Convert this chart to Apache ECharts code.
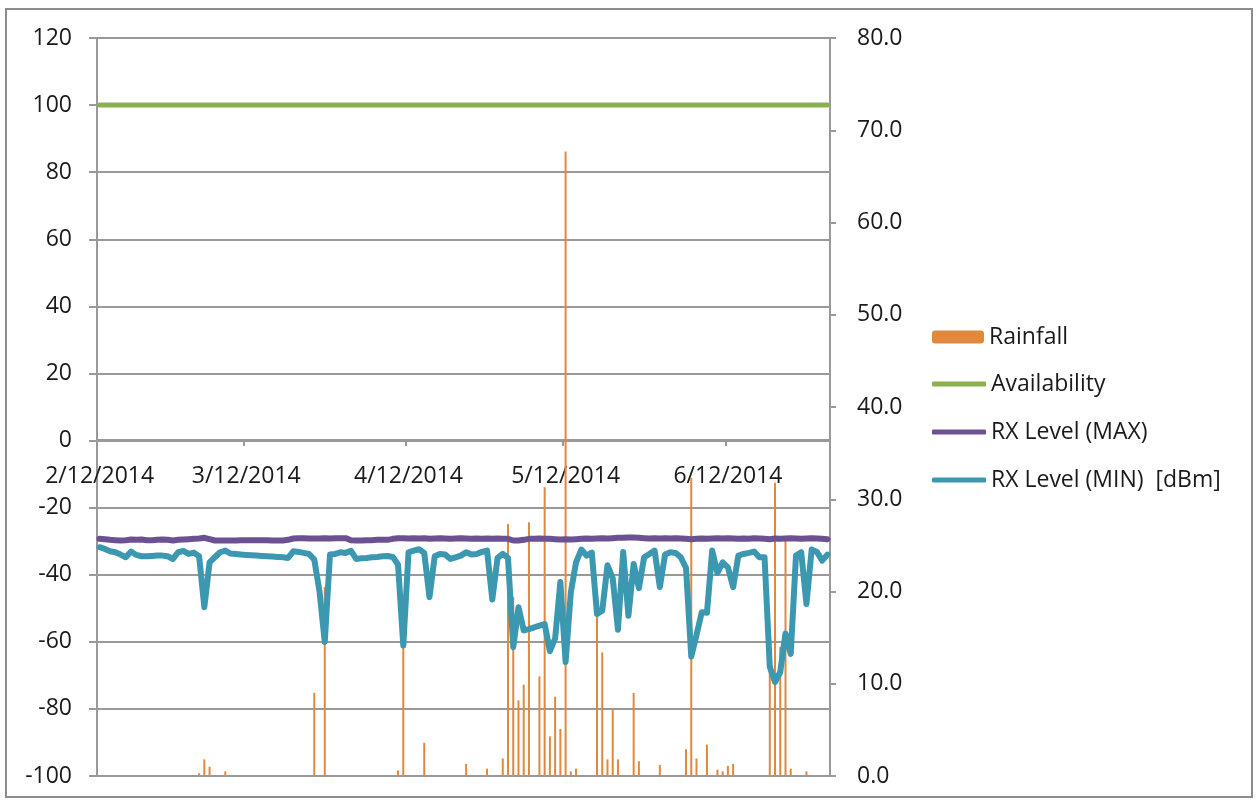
<!DOCTYPE html>
<html>
<head>
<meta charset="utf-8">
<script src="https://cdn.jsdelivr.net/npm/echarts@6/dist/echarts.min.js"></script>
<style>
html, body { margin: 0; padding: 0; background: #fff; }
#chart { width: 1258px; height: 802px; }
</style>
</head>
<body>
<div id="chart"></div>
<script>
// daily categories, 12 Feb 2014 .. 1 Jul 2014 (140 days)
const days = []
for (let i = 0; i < 140; i++) {
  const d = new Date(2014, 1, 12 + i)
  days.push((d.getMonth() + 1) + '/' + d.getDate() + '/' + d.getFullYear())
}
const tickLabels = ['2/12/2014', '3/12/2014', '4/12/2014', '5/12/2014', '6/12/2014']

// rainfall (right axis)
const rainfall = [
  0, 0, 0, 0, 0, 0, 0, 0, 0, 0, 0, 0, 0, 0, 0, 0, 0, 0, 0, 0.3,
  1.8, 1.0, 0, 0, 0.5, 0, 0, 0, 0, 0, 0, 0, 0, 0, 0, 0, 0, 0, 0, 0,
  0, 9.0, 0, 20.5, 0, 0, 0, 0, 0, 0, 0, 0, 0, 0, 0, 0, 0, 0.6, 14.0, 0,
  0, 0, 3.6, 0, 0, 0, 0, 0, 0, 0, 1.3, 0, 0, 0, 0.8, 0, 0, 1.9, 27.3, 19.4,
  8.2, 9.9, 27.5, 0, 10.8, 31.3, 4.3, 8.6, 5.1, 67.7, 0.5, 0.8, 0, 0, 0, 17.5, 13.4, 1.8, 7.2, 1.8,
  0, 0, 9.0, 1.6, 0, 0, 0, 1.2, 0, 0, 0, 0, 2.9, 32.3, 1.9, 0, 3.4, 0, 0.7, 0.5,
  1.1, 1.3, 0, 0, 0, 0, 0, 0, 11.5, 31.8, 14.0, 25.6, 0.8, 0, 0, 0.5, 0, 0, 0, 0
]

// availability (left axis)
const availability = [
  100, 100, 100, 100, 100, 100, 100, 100, 100, 100, 100, 100, 100, 100, 100, 100, 100, 100, 100, 100,
  100, 100, 100, 100, 100, 100, 100, 100, 100, 100, 100, 100, 100, 100, 100, 100, 100, 100, 100, 100,
  100, 100, 100, 100, 100, 100, 100, 100, 100, 100, 100, 100, 100, 100, 100, 100, 100, 100, 100, 100,
  100, 100, 100, 100, 100, 100, 100, 100, 100, 100, 100, 100, 100, 100, 100, 100, 100, 100, 100, 100,
  100, 100, 100, 100, 100, 100, 100, 100, 100, 100, 100, 100, 100, 100, 100, 100, 100, 100, 100, 100,
  100, 100, 100, 100, 100, 100, 100, 100, 100, 100, 100, 100, 100, 100, 100, 100, 100, 100, 100, 100,
  100, 100, 100, 100, 100, 100, 100, 100, 100, 100, 100, 100, 100, 100, 100, 100, 100, 100, 100, 100
]

// RX level max, dBm
const rxMax = [
  -29.3, -29.4, -29.6, -29.7, -29.8, -29.7, -29.5, -29.6, -29.5, -29.7, -29.7, -29.6, -29.5, -29.6, -29.8, -29.6, -29.5, -29.4, -29.3, -29.2,
  -29.0, -29.4, -29.8, -29.8, -29.8, -29.8, -29.8, -29.7, -29.7, -29.7, -29.7, -29.7, -29.7, -29.8, -29.8, -29.8, -29.6, -29.2, -29.1, -29.1,
  -29.2, -29.2, -29.2, -29.1, -29.2, -29.1, -29.1, -29.1, -29.7, -29.8, -29.8, -29.7, -29.7, -29.6, -29.6, -29.6, -29.3, -29.1, -29.1, -29.2,
  -29.1, -29.2, -29.1, -29.3, -29.2, -29.1, -29.2, -29.3, -29.2, -29.1, -29.2, -29.3, -29.2, -29.3, -29.2, -29.3, -29.2, -29.3, -29.3, -29.8,
  -29.8, -29.6, -29.3, -29.3, -29.2, -29.3, -29.3, -29.4, -29.5, -29.4, -29.5, -29.4, -29.3, -29.2, -29.3, -29.2, -29.1, -29.2, -29.1, -29.0,
  -29.0, -28.9, -28.9, -29.0, -29.1, -29.2, -29.1, -29.2, -29.1, -29.2, -29.1, -29.2, -29.3, -29.4, -29.3, -29.2, -29.3, -29.2, -29.1, -29.2,
  -29.1, -29.2, -29.3, -29.2, -29.3, -29.1, -29.2, -29.3, -29.4, -29.2, -29.3, -29.2, -29.1, -29.2, -29.3, -29.2, -29.1, -29.2, -29.3, -29.4
]

// RX level min, dBm
const rxMin = [
  -31.8, -32.3, -33.0, -33.3, -34.0, -34.8, -33.1, -34.1, -34.5, -34.5, -34.4, -34.3, -34.3, -34.5, -35.3, -33.3, -32.9, -33.8, -33.4, -34.5,
  -49.7, -36.3, -34.8, -33.3, -32.8, -33.7, -33.8, -34.0, -34.1, -34.2, -34.3, -34.4, -34.5, -34.6, -34.7, -34.8, -35.0, -33.0, -33.2, -33.5,
  -33.8, -35.5, -45.0, -60.0, -34.0, -33.8, -33.3, -33.5, -32.9, -35.3, -35.1, -35.0, -34.8, -34.7, -34.5, -34.4, -34.7, -37.0, -61.1, -33.3,
  -32.8, -32.4, -33.5, -46.7, -34.5, -33.8, -34.0, -35.3, -34.8, -34.3, -33.3, -34.0, -33.8, -33.2, -32.8, -47.4, -35.0, -33.8, -35.0, -61.6,
  -49.7, -56.6, -56.2, -55.7, -55.2, -54.7, -62.8, -59.0, -42.2, -66.0, -45.2, -36.3, -32.5, -34.3, -33.4, -51.7, -50.7, -37.2, -41.0, -56.4,
  -33.2, -52.2, -36.8, -44.0, -34.8, -33.8, -32.8, -43.7, -34.0, -33.3, -33.5, -34.8, -38.0, -64.4, -58.0, -51.2, -51.3, -32.8, -39.5, -36.3,
  -37.8, -43.7, -34.3, -33.8, -33.5, -33.1, -34.8, -34.8, -67.5, -72.0, -69.0, -57.5, -63.6, -34.3, -33.3, -48.7, -32.5, -33.2, -35.8, -34.0
]

const GRID_GREY = '#999999'
const textStyle = { color: '#1a1a1a', fontFamily: '"Open Sans"', fontSize: 23 }
const showTick = (i, v) => tickLabels.includes(v)

const chart = echarts.init(document.getElementById('chart'), null, { renderer: 'canvas' })

chart.setOption({
  animation: false,
  backgroundColor: '#ffffff',
  graphic: [{
    type: 'rect', silent: true,
    shape: { x: 6, y: 9, width: 1246, height: 788 },
    style: { fill: 'none', stroke: '#8c8c8c', lineWidth: 2 },
  }],
  grid: { left: 97, right: 428, top: 38, bottom: 26, containLabel: false, outerBoundsMode: 'none' },
  legend: [
    {
      orient: 'vertical', left: 932, top: 325, padding: 0,
      itemWidth: 52, itemHeight: 13,
      textStyle: { ...textStyle, lineHeight: 24 },
      data: ['Rainfall'],
    },
    {
      orient: 'vertical', left: 932, top: 372, padding: 0,
      itemWidth: 54, itemHeight: 5, itemGap: 24, icon: 'roundRect',
      textStyle: { ...textStyle, lineHeight: 24 },
      data: ['Availability', 'RX Level (MAX)', 'RX Level (MIN)  [dBm]'],
    },
  ],
  xAxis: {
    type: 'category', data: days, boundaryGap: true,
    position: 'bottom', offset: -336,
    axisLine: { onZero: false, lineStyle: { color: GRID_GREY, width: 2 } },
    axisTick: { show: true, interval: showTick, length: 6, lineStyle: { color: GRID_GREY, width: 2 } },
    axisLabel: { interval: showTick, margin: 25, ...textStyle },
    splitLine: { show: false },
  },
  yAxis: [
    {
      type: 'value', min: -100, max: 120, interval: 20,
      axisLine: { show: true, lineStyle: { color: GRID_GREY, width: 2 } },
      axisTick: { show: true, length: 8, lineStyle: { color: GRID_GREY, width: 2 } },
      axisLabel: { margin: 25, ...textStyle },
      splitLine: { lineStyle: { color: GRID_GREY, width: 2 } },
    },
    {
      type: 'value', min: 0, max: 80, interval: 10, position: 'right',
      axisLine: { show: true, lineStyle: { color: GRID_GREY, width: 2 } },
      axisTick: { show: true, length: 6, lineStyle: { color: GRID_GREY, width: 2 } },
      axisLabel: { margin: 27, formatter: v => v.toFixed(1), ...textStyle },
      splitLine: { show: false },
    },
  ],
  series: [
    {
      name: 'Rainfall', type: 'bar', yAxisIndex: 1, data: rainfall,
      barWidth: 2, itemStyle: { color: '#e0883c' },
    },
    {
      name: 'Availability', type: 'line', yAxisIndex: 0, data: availability,
      symbol: 'none', lineStyle: { color: '#8bb04e', width: 5, cap: 'round', join: 'round' },
      itemStyle: { color: '#8bb04e' },
    },
    {
      name: 'RX Level (MAX)', type: 'line', yAxisIndex: 0, data: rxMax,
      symbol: 'none', lineStyle: { color: '#6b5092', width: 6, cap: 'round', join: 'round' },
      itemStyle: { color: '#6b5092' },
    },
    {
      name: 'RX Level (MIN)  [dBm]', type: 'line', yAxisIndex: 0, data: rxMin,
      symbol: 'none', lineStyle: { color: '#3c98b1', width: 6, cap: 'round', join: 'round' },
      itemStyle: { color: '#3c98b1' },
    },
  ],
})
</script>
</body>
</html>
